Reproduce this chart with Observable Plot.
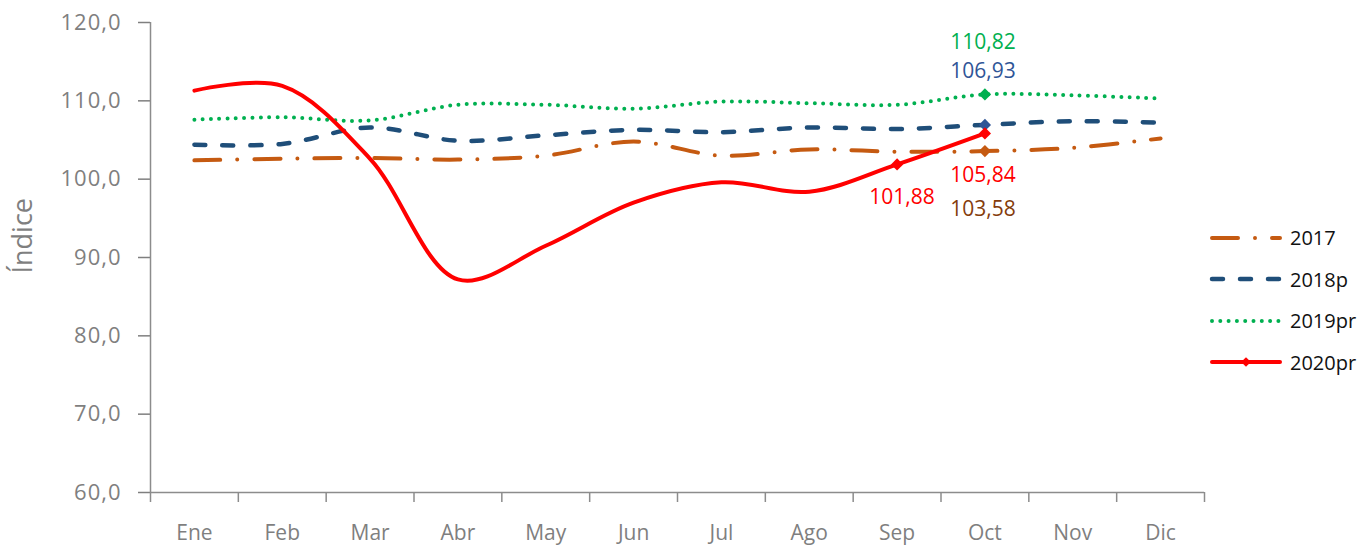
<!DOCTYPE html>
<html>
<head>
<meta charset="utf-8">
<script src="https://cdn.jsdelivr.net/npm/d3@7"></script>
<script src="https://cdn.jsdelivr.net/npm/@observablehq/plot@0.6"></script>
<style>
  html, body { margin: 0; padding: 0; background: #fff; }
  #wrap { position: relative; width: 1358px; height: 548px; font-family: "Open Sans", sans-serif; }
  #legend { position: absolute; left: 1208px; top: 217px; }
  .lrow { display: flex; align-items: center; height: 41.5px; font-size: 20px; color: #111; }
  .lrow svg { margin-right: 6px; }
  g[aria-label="y-axis tick label"] text { letter-spacing: 1px; }
</style>
</head>
<body>
<div id="wrap"><div id="chart"></div><div id="legend"></div></div>
<script>
const months = ["Ene","Feb","Mar","Abr","May","Jun","Jul","Ago","Sep","Oct","Nov","Dic"];
const seriesNames = ["2017","2018p","2019pr","2020pr"];
const v2017 = [102.4, 102.6, 102.7, 102.5, 103.0, 104.8, 103.0, 103.8, 103.5, 103.58, 104.0, 105.2];
const v2018 = [104.4, 104.5, 106.6, 104.9, 105.6, 106.3, 106.0, 106.6, 106.4, 106.93, 107.4, 107.2];
const v2019 = [107.6, 107.9, 107.5, 109.5, 109.5, 109.0, 109.9, 109.7, 109.5, 110.82, 110.7, 110.3];
const v2020 = [111.3, 111.9, 102.6, 87.2, 91.5, 97.0, 99.6, 98.4, 101.88, 105.84];
const yTicks = [60, 70, 80, 90, 100, 110, 120];
const yLabel = "Índice";

// labelled points: [series, month]
const labelled = [["2019pr","Oct"],["2018p","Oct"],["2020pr","Oct"],["2017","Oct"],["2020pr","Sep"]];

const valuesBy = {"2017": v2017, "2018p": v2018, "2019pr": v2019, "2020pr": v2020};
const style = {
  "2017":   {stroke: "#C55A11", width: 4,   dash: "26,17,0,17", marker: "#C55A11", text: "#843C0C"},
  "2018p":  {stroke: "#1F4E79", width: 4.5, dash: "11,17",      marker: "#2F5597", text: "#2F5597"},
  "2019pr": {stroke: "#00B050", width: 4,   dash: "0,8.3",      marker: "#00B050", text: "#00B050"},
  "2020pr": {stroke: "#FF0000", width: 4,   dash: null,         marker: "#FF0000", text: "#FF0000"}
};

const rows = seriesNames.flatMap(s => valuesBy[s].map((v, i) => ({series: s, i, month: months[i], value: v})));
const pt = (s, m) => rows.find(r => r.series === s && r.month === m);
const lab = labelled.map(([s, m]) => pt(s, m));
const fmt = v => v.toFixed(2).replace(".", ",");
const fmt1 = v => v.toFixed(1).replace(".", ",");

const lineMarks = seriesNames.map(s => Plot.line(rows.filter(r => r.series === s), {
  x: "i", y: "value", curve: "catmull-rom",
  stroke: style[s].stroke, strokeWidth: style[s].width,
  strokeDasharray: style[s].dash, strokeLinecap: "round", strokeLinejoin: "round"
}));

const boundaries = months.map((_, i) => i - 0.5).concat([months.length - 0.5]);
const textOffsets = [
  {dx: -2, dy: -52}, // 110,82
  {dx: -2, dy: -54}, // 106,93
  {dx: -2, dy: 42},  // 105,84
  {dx: -2, dy: 58},  // 103,58
  {dx: 5, dy: 33}    // 101,88
];

const chart = Plot.plot({
  width: 1358, height: 548,
  marginLeft: 150, marginRight: 154, marginTop: 22, marginBottom: 56,
  style: {fontFamily: "Open Sans, sans-serif", background: "#fff"},
  x: {type: "linear", domain: [-0.5, months.length - 0.5]},
  y: {domain: [yTicks[0], yTicks[yTicks.length - 1]]},
  marks: [
    Plot.axisY({ticks: yTicks, tickFormat: fmt1, tickSize: 12, tickPadding: 17, fontSize: 22,
                color: "#7f7f7f", strokeWidth: 1.5, label: null}),
    Plot.axisX({ticks: boundaries, tickFormat: () => "", tickSize: 10, color: "#8c8c8c", strokeWidth: 1.5, label: null}),
    Plot.axisX({ticks: months.map((_, i) => i), tickFormat: i => months[i], tickSize: 0, tickPadding: 33,
                fontSize: 21, color: "#7f7f7f", label: null}),
    Plot.ruleX([boundaries[0]], {stroke: "#8c8c8c", strokeWidth: 1.5}),
    Plot.ruleY([yTicks[0]], {stroke: "#8c8c8c", strokeWidth: 1.5}),
    Plot.text([yLabel], {frameAnchor: "left", rotate: -90, dx: -127, dy: 16, fontSize: 27, fill: "#7f7f7f"}),
    ...lineMarks,
    Plot.dot(lab, {x: "i", y: "value", symbol: "diamond2", r: 5.5, fill: d => style[d.series].marker, stroke: "none"}),
    ...lab.map((d, k) => Plot.text([d], {x: "i", y: "value", text: d => fmt(d.value), fontSize: 21,
        fill: style[d.series].text, dx: textOffsets[k].dx, dy: textOffsets[k].dy}))
  ]
});
document.getElementById("chart").appendChild(chart);

// legend
const legend = d3.select("#legend");
seriesNames.forEach(s => {
  const row = legend.append("div").attr("class", "lrow");
  const svg = row.append("svg").attr("width", 76).attr("height", 20);
  svg.append("line").attr("x1", 4).attr("x2", 72).attr("y1", 10).attr("y2", 10)
    .attr("stroke", style[s].stroke).attr("stroke-width", style[s].width)
    .attr("stroke-dasharray", style[s].dash).attr("stroke-linecap", "round");
  if (s === "2020pr") {
    svg.append("path").attr("d", d3.symbol(d3.symbolDiamond2, 60)()).attr("transform", "translate(38,10)")
      .attr("fill", style[s].marker);
  }
  row.append("span").text(s);
});
</script>
</body>
</html>
